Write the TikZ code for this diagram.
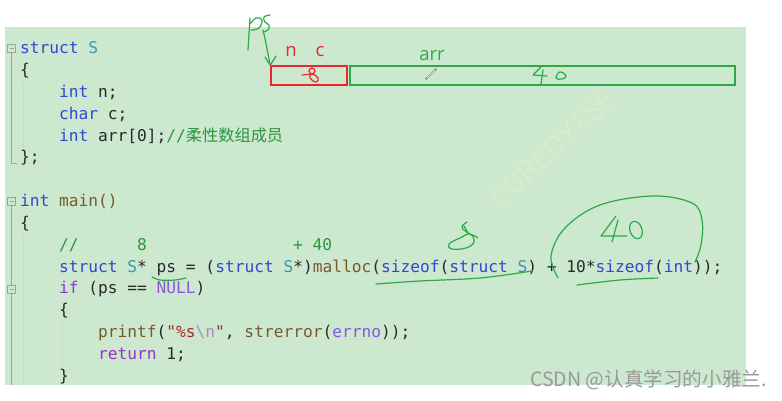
\documentclass[tikz,border=0pt]{standalone}
\usepackage{fontspec}
\setmonofont{DejaVu Sans Mono}
\newfontfamily\cjk{Noto Sans CJK SC}
\newfontfamily\handfont{Open Sans}
\usetikzlibrary{arrows.meta}
\definecolor{panel}{RGB}{204,232,207}
\definecolor{kw}{RGB}{48,72,210}
\definecolor{ty}{RGB}{55,150,180}
\definecolor{ctl}{RGB}{150,50,200}
\definecolor{mac}{RGB}{140,85,220}
\definecolor{fn}{RGB}{120,90,45}
\definecolor{cm}{RGB}{45,150,60}
\definecolor{str}{RGB}{165,45,40}
\definecolor{esc}{RGB}{170,140,200}
\definecolor{txt}{RGB}{40,40,45}
\definecolor{pen}{RGB}{45,170,70}
\definecolor{rpen}{RGB}{230,40,40}
\definecolor{fold}{RGB}{160,160,160}
\definecolor{wm}{RGB}{216,237,194}
\newcommand\K[1]{\textcolor{kw}{#1}}
\newcommand\T[1]{\textcolor{ty}{#1}}
\newcommand\C[1]{\textcolor{ctl}{#1}}
\newcommand\M[1]{\textcolor{mac}{#1}}
\newcommand\F[1]{\textcolor{fn}{#1}}
\newcommand\G[1]{\textcolor{cm}{#1}}
\newcommand\Sr[1]{\textcolor{str}{#1}}
\newcommand\E[1]{\textcolor{esc}{#1}}
\newlength\cw \setlength\cw{9.75pt}
\tikzset{
  x=1pt, y=-1pt,
  code/.style={anchor=base west, inner sep=0pt, text=txt,
    font=\ttfamily\fontsize{16.2}{20}\selectfont},
  penline/.style={draw=pen, line width=1.2pt, line cap=round, line join=round},
  rpenline/.style={draw=rpen, line width=1.2pt, line cap=round, line join=round},
  foldline/.style={draw=fold, line width=0.8pt},
  guide/.style={draw=fold!60, line width=0.6pt, dotted},
  label/.style={inner sep=0pt, font=\handfont\fontsize{18.5}{20}\selectfont},
}
\begin{document}
\begin{tikzpicture}
\useasboundingbox (0,0) rectangle (782,401);
\fill[white] (0,0) rectangle (782,401);
\fill[panel] (5,27) rectangle (746,385);
% faint watermark
\node[rotate=43, text=wm, font=\sffamily\fontsize{30}{32}\selectfont, inner sep=0pt] (wmark) at (553,148) {CUREDYESE};
% memory boxes
\node[draw=rpen, line width=1.5pt, minimum width=76pt, minimum height=19pt, inner sep=0pt] (nbox) at (309,75.5) {};
\node[draw=pen, line width=1.5pt, minimum width=385pt, minimum height=19pt, inner sep=0pt] (abox) at (542.5,75.5) {};
\node[label, text=rpen, anchor=base] (ln) at (291,57) {n};
\node[label, text=rpen, anchor=base] (lc) at (320,57) {c};
\node[label, text=pen, anchor=base] (larr) at (432,61) {arr};
% fold markers
\draw[foldline] (7.5,44) rectangle (15.5,52);
\draw[foldline] (9.5,48) -- (13.5,48);
\draw[foldline] (11.5,52) -- (11.5,163) -- (17,163);
\draw[foldline] (7.5,197) rectangle (15.5,205);
\draw[foldline] (9.5,201) -- (13.5,201);
\draw[foldline] (11.5,205) -- (11.5,285);
\draw[foldline] (11.5,293) -- (11.5,385);
\draw[foldline, fill=panel] (7.5,285) rectangle (15.5,293);
\draw[foldline] (9.5,289) -- (13.5,289);
\draw[guide] (23,84) -- (23,150);
\draw[guide] (23,236) -- (23,385);
\draw[guide] (62,322) -- (62,370);
% code
\node[code] (l0)  at (20,54)    {\K{struct} \T{S}};
\node[code] (l1)  at (20,75.8)  {\{};
\node[code] (l2)  at (59,97.6)  {\K{int} n;};
\node[code] (l3)  at (59,119.4) {\K{char} c;};
\node[code] (l4)  at (59,141.2) {\K{int} arr[0];\G{//{\cjk 柔性数组成员}}};
\node[code] (l5)  at (20,163)   {\};};
\node[code] (l7)  at (20,206.6) {\K{int} \F{main()}};
\node[code] (l8)  at (20,228.4) {\{};
\node[code] (l9)  at (59,250.2) {\G{//\hspace*{6\cw}8\hspace*{15\cw}+ 40}};
\node[code] (l10) at (59,272)   {\K{struct} \T{S}* ps = (\K{struct} \T{S}*)\F{malloc}(\K{sizeof}(\K{struct} \T{S}) + 10*\K{sizeof}(\K{int}));};
\node[code] (l11) at (59,293.8) {\C{if} (ps == \M{NULL})};
\node[code] (l12) at (59,315.6) {\{};
\node[code] (l13) at (98,337.4) {\F{printf}(\Sr{"\%s}\E{\textbackslash n}\Sr{"}, \F{strerror}(\M{errno}));};
\node[code] (l14) at (98,359.2) {\C{return} 1;};
\node[code] (l15) at (59,381)   {\}};
% handwritten "ps" and arrow
\draw[penline] plot[smooth, tension=0.6] coordinates {(250,18) (249,34) (248,50)};
\draw[penline] plot[smooth, tension=0.7] coordinates {(250,24) (256,18) (262,20) (259,28) (251,30)};
\draw[penline] plot[smooth, tension=0.7] coordinates {(270,15) (264,17) (265,22) (269,25) (268,30) (263,32)};
\coordinate (psend) at (263,30);
\draw[penline] (psend) .. controls (266,42) and (268,55) .. (nbox.north west);
\draw[penline] (265,57) -- (nbox.north west) -- (276,56);
% red 8 in n/c box
\draw[rpenline] (302,75) -- (313,74);
\draw[rpenline] plot[smooth cycle, tension=0.8] coordinates {(312,68) (315,71) (312,74) (309,71)};
\draw[rpenline] plot[smooth cycle, tension=0.8] coordinates {(312,74) (318,78) (316,82) (310,78)};
% pencil cursor
\draw[gray, line width=1.6pt, line cap=round] (426,79) -- (436,69);
\draw[white, line width=0.5pt] (427,78) -- (435,70);
% green 40 in arr box
\draw[penline] (541,67) -- (533,75) -- (547,76);
\draw[penline] (543,70) -- (541,84);
\draw[penline] plot[smooth cycle, tension=0.8] coordinates {(556,78) (560,72) (566,76) (562,79)};
% handwritten 8 above sizeof(struct S)
\draw[penline] plot[smooth, tension=0.7] coordinates {(467,222) (462,227) (468,233) (475,236) (478,238)};
\draw[penline] plot[smooth cycle, tension=0.7] coordinates {(470,234) (460,238) (449,244) (452,249) (466,248) (474,242)};
\draw[penline] (468,233) -- (464,226);
% underlines
\draw[penline] plot[smooth, tension=0.6] coordinates {(376,284) (420,281) (480,278) (532,271)};
\draw[penline] plot[smooth, tension=0.6] coordinates {(577,285) (620,280) (658,278)};
\draw[penline] plot[smooth, tension=0.6] coordinates {(152,277) (160,280) (175,280) (186,278)};
% arc round + 10*sizeof(int)
\draw[penline] plot[smooth, tension=0.6] coordinates {(558,278) (551,256) (565,228) (600,205) (653,196) (692,203) (702,220) (701,245) (695,262)};
% handwritten 40
\draw[penline] (616,216) -- (601,236) -- (627,236);
\draw[penline] (618,220) -- (612,242);
\draw[penline, rotate around={20:(636,230)}] (636,230) ellipse [x radius=6, y radius=9];
% CSDN watermark
\node[anchor=west, inner sep=0pt, text=gray!80, font=\cjk\fontsize{19.6}{21}\selectfont] (csdn) at (530,380) {CSDN @认真学习的小雅兰.};
\end{tikzpicture}
\end{document}
